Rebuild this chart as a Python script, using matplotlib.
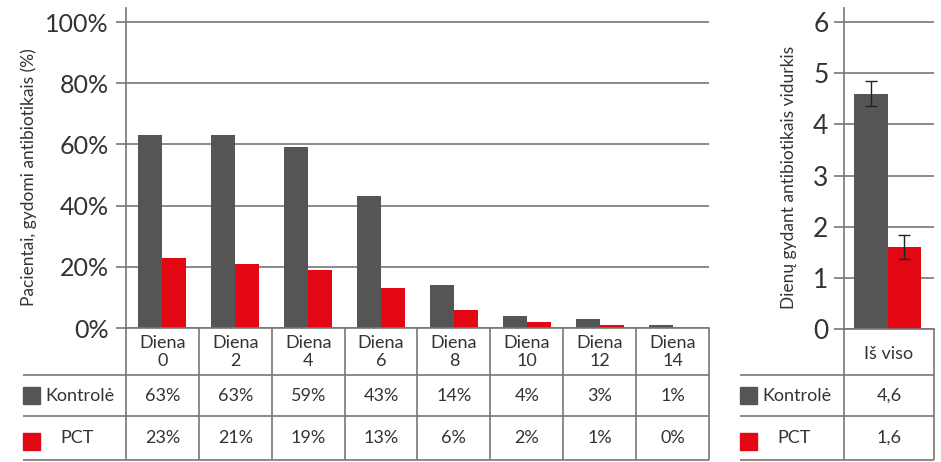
import numpy as np
import matplotlib.pyplot as plt
from matplotlib.patches import Rectangle
from matplotlib.transforms import blended_transform_factory

plt.rcParams['font.family'] = ['Lato', 'DejaVu Sans']

# data
days = ['0', '2', '4', '6', '8', '10', '12', '14']
kontrole = [63, 63, 59, 43, 14, 4, 3, 1]
pct = [23, 21, 19, 13, 6, 2, 1, 0]
pct_ticks = [0, 20, 40, 60, 80, 100]

mean_days = [4.6, 1.6]
mean_err = [0.25, 0.23]
mean_labels = ['4,6', '1,6']
day_ticks = [0, 1, 2, 3, 4, 5, 6]

gray = '#555555'
red = '#e30613'
line = '#777777'
tcol = '#333333'

W, H = 941, 462
fig = plt.figure(figsize=(W / 100, H / 100), dpi=100)


def box(x0, y0, x1, y1):
    # pixel box (top-down) -> figure fraction
    return [x0 / W, 1 - y1 / H, (x1 - x0) / W, (y1 - y0) / H]


# overlay in pixel coords for the tables
ov = fig.add_axes([0, 0, 1, 1])
ov.set_autoscale_on(False)
ov.set_xlim(0, W)
ov.set_ylim(H, 0)
ov.axis('off')
ov.set_zorder(5)
ov.patch.set_visible(False)

# ---- left chart
ax1 = fig.add_axes(box(126, 8, 709, 328))
x = np.arange(len(days))
ax1.bar(x - 0.165, kontrole, 0.33, color=gray)
ax1.bar(x + 0.165, pct, 0.33, color=red)
ax1.set_xlim(-0.5, len(days) - 0.5)
ax1.set_ylim(0, 100 * 320 / 306)
ax1.set_yticks(pct_ticks)
ax1.set_yticklabels([f'{t}%' for t in pct_ticks])
ax1.set_xticks([])
ax1.yaxis.grid(True, color=line, lw=1.2)
ax1.set_axisbelow(True)
for s in ['top', 'right']:
    ax1.spines[s].set_visible(False)
for s in ['left', 'bottom']:
    ax1.spines[s].set_color(line)
    ax1.spines[s].set_linewidth(1.2)
ax1.tick_params(axis='y', length=7.2, width=1.2, color=line, pad=5,
                labelsize=18, labelcolor=tcol)
ax1.set_ylabel('Pacientai, gydomi antibiotikais (%)', fontsize=12.5, color=tcol)
ax1.yaxis.set_label_coords(-0.152, 0.47)

# ---- right chart
ax2 = fig.add_axes(box(844, 8, 934, 329))
ax2.bar(-0.2, mean_days[0], 0.37, color=gray)
ax2.bar(0.17, mean_days[1], 0.37, color=red)
ax2.errorbar([-0.2, 0.17], mean_days, yerr=mean_err, fmt='none',
             ecolor='#222222', elinewidth=1, capsize=4.5, capthick=1)
ax2.set_xlim(-0.5, 0.5)
ax2.set_ylim(0, 6 * 321 / 307)
ax2.set_yticks(day_ticks)
ax2.set_xticks([])
ax2.yaxis.grid(True, color=line, lw=1.2)
ax2.set_axisbelow(True)
for s in ['top', 'right']:
    ax2.spines[s].set_visible(False)
for s in ['left', 'bottom']:
    ax2.spines[s].set_color(line)
    ax2.spines[s].set_linewidth(1.2)
ax2.tick_params(axis='y', length=7.2, width=1.2, color=line, pad=4,
                labelsize=19, labelcolor=tcol)
ax2.set_ylabel('Dienų gydant antibiotikais vidurkis', fontsize=12.5, color=tcol)
ax2.yaxis.set_label_coords(-0.52, 0.473)

# ---- tables
tlw = 1.2
fs = 13
rows_y = [375, 416, 460]
row_mid = [396, 438]

tr1 = blended_transform_factory(ax1.transData, ov.transData)
ov.vlines(np.arange(len(days) + 1) - 0.5, 328, 460, colors=line, lw=tlw,
          transform=tr1)
ov.hlines(rows_y, 23, 709, colors=line, lw=tlw)
for i, d in enumerate(days):
    ov.text(i, 352, f'Diena\n{d}', transform=tr1, ha='center', va='center',
            fontsize=fs, color=tcol, linespacing=1.15)
    ov.text(i, row_mid[0], f'{kontrole[i]}%', transform=tr1, ha='center',
            va='center', fontsize=fs, color=tcol)
    ov.text(i, row_mid[1], f'{pct[i]}%', transform=tr1, ha='center',
            va='center', fontsize=fs, color=tcol)

tr2 = blended_transform_factory(ax2.transData, ov.transData)
ov.vlines([-0.5, 0.5], 329, 460, colors=line, lw=tlw, transform=tr2)
ov.hlines(rows_y, 740, 934, colors=line, lw=tlw)
ov.text(0, 354, 'Iš viso', transform=tr2, ha='center', va='center',
        fontsize=fs, color=tcol)
for j, v in enumerate(mean_labels):
    ov.text(0, row_mid[j], v, transform=tr2, ha='center', va='center',
            fontsize=fs, color=tcol)

# row labels with colour keys
for x0 in [23, 740]:
    ov.add_patch(Rectangle((x0, 387), 17, 17, color=gray))
    ov.add_patch(Rectangle((x0, 433), 17, 17, color=red))
    ov.text(x0 + 22, row_mid[0], 'Kontrolė', ha='left', va='center',
            fontsize=fs, color=tcol)
    ov.text(x0 + 37, row_mid[1], 'PCT', ha='left', va='center',
            fontsize=fs, color=tcol)

plt.savefig('out.png', dpi=100)
